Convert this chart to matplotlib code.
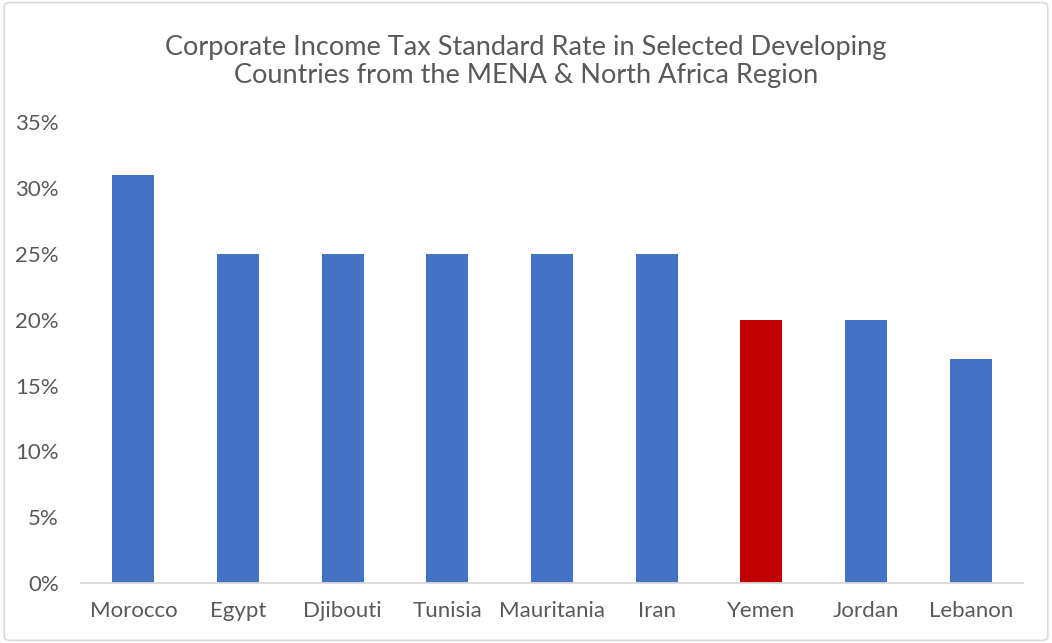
import matplotlib.pyplot as plt
from matplotlib.patches import FancyBboxPatch
from matplotlib.ticker import PercentFormatter

plt.rcParams['font.family'] = ['Lato', 'DejaVu Sans']

countries = ['Morocco', 'Egypt', 'Djibouti', 'Tunisia', 'Mauritania',
             'Iran', 'Yemen', 'Jordan', 'Lebanon']
rates = [31, 25, 25, 25, 25, 25, 20, 20, 17]
highlight = 'Yemen'

text_color = '#595959'
colors = ['#C00000' if c == highlight else '#4472C4' for c in countries]

fig = plt.figure(figsize=(10.52, 6.43), dpi=100)
ax = fig.add_axes([0.077, 0.0933, 0.8954, 0.7167])

ax.bar(countries, rates, width=0.4, color=colors)
ax.set_xlim(-0.5, len(countries) - 0.5)
ax.set_ylim(0, 35)
ax.set_yticks(range(0, 36, 5))
ax.yaxis.set_major_formatter(PercentFormatter(decimals=0))

for side in ['top', 'right', 'left']:
    ax.spines[side].set_visible(False)
ax.spines['bottom'].set_color('#D9D9D9')
ax.spines['bottom'].set_linewidth(1.3)
ax.tick_params(axis='both', length=0, labelsize=16, colors=text_color)
ax.tick_params(axis='y', pad=16)
ax.tick_params(axis='x', pad=13)

fig.text(0.5, 0.905,
         'Corporate Income Tax Standard Rate in Selected Developing\n'
         'Countries from the MENA & North Africa Region',
         ha='center', va='center', fontsize=19.5, color=text_color,
         linespacing=1.15)

# light frame around the whole chart
frame = FancyBboxPatch((0.004, 0.004), 0.992, 0.992,
                       boxstyle='round,pad=0,rounding_size=0.006',
                       transform=fig.transFigure, facecolor='none',
                       edgecolor='#D9D9D9', linewidth=1.2)
fig.patches.append(frame)

fig.savefig('out.png', dpi=100)
